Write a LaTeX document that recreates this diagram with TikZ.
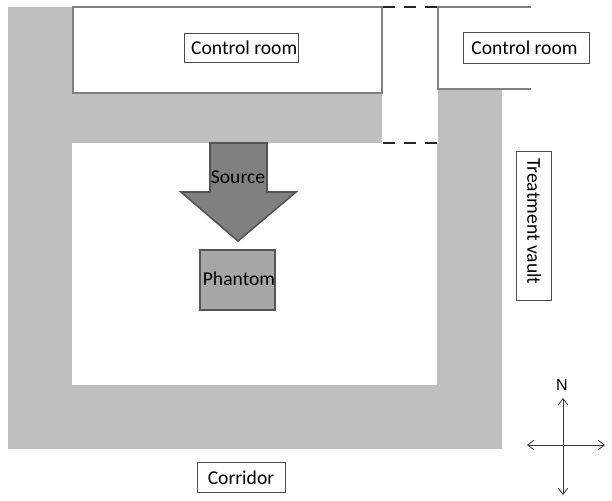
\documentclass[tikz,border=0pt]{standalone}
\usepackage{fontspec}
\setmainfont{Carlito}
\newfontfamily\northfont{Liberation Sans}
\usetikzlibrary{arrows.meta}
\definecolor{wallgray}{gray}{0.75}
\definecolor{linegray}{gray}{0.5}
\definecolor{sourcegray}{gray}{0.5}
\definecolor{phantomgray}{gray}{0.65}
\definecolor{edgegray}{gray}{0.33}
\tikzset{
  labelbox/.style={draw=black!70, fill=white, line width=0.6pt, inner sep=0pt, font=\fontsize{14.7}{16}\selectfont, text=black},
  plainlabel/.style={inner sep=0pt, font=\fontsize{14.7}{16}\selectfont, text=black},
  roomline/.style={draw=linegray, line width=1.4pt},
  doorline/.style={draw=black!85, line width=1.8pt, dash pattern=on 9pt off 6.75pt},
  compassline/.style={draw=black!80, line width=0.6pt, {Straight Barb[length=4.5pt,width=7pt]}-{Straight Barb[length=4.5pt,width=7pt]}},
}
\begin{document}
\begin{tikzpicture}[x=0.75pt, y=-0.75pt]
\useasboundingbox (0,0) rectangle (612,501);
%
\fill[white] (0,0) rectangle (612,501);
\fill[wallgray] (8,7) rectangle (502,449);
\fill[white] (72,143) rectangle (437,385);
\fill[white] (382,7) rectangle (438,143);
\fill[white] (438,0) rectangle (612,89);
\fill[white] (502,89) rectangle (612,143);
%
\draw[roomline, fill=white] (73,7) rectangle (382,93);
\draw[roomline] (531,7) -- (438,7) -- (438,89) -- (531,89);
%
\draw[doorline] (383,7) -- (438,7);
\draw[doorline] (383,143) -- (438,143);
%
\draw[draw=edgegray, line width=1.2pt, fill=sourcegray]
(210,143) -- (267,143) -- (267,192) -- (296,192) -- (238,241) -- (181,192) -- (210,192) -- cycle;
\draw[draw=edgegray, line width=1.2pt, fill=phantomgray] (200,250) rectangle (275,310);
%
\node[plainlabel] (source) at (238,177) {Source};
\node[plainlabel] (phantom) at (239,279) {Phantom};
%
\node[labelbox, minimum width=86pt, minimum height=22pt] (room1) at (241.5,48) {\hspace*{4pt}Control room};
\node[labelbox, minimum width=95pt, minimum height=23pt] (room2) at (526.5,48) {\hspace*{-1pt}Control room\hspace*{2pt}};
\node[labelbox, minimum width=112pt, minimum height=26pt, rotate=-90] (vault) at (534,226) {Treatment vault\hspace*{7pt}};
\node[labelbox, minimum width=66pt, minimum height=22pt] (corridor) at (241,477.5) {Corridor};
%
\coordinate (west) at (527,445);
\coordinate (east) at (605,445);
\coordinate (south) at (563,495);
\coordinate (north) at (563,398);
\draw[compassline] (west) -- (east);
\draw[compassline] (south) -- (north);
\node[inner sep=0pt, font=\northfont\fontsize{12}{14}\selectfont] (northlabel) at (562,384.5) {N};
%
\end{tikzpicture}
\end{document}
